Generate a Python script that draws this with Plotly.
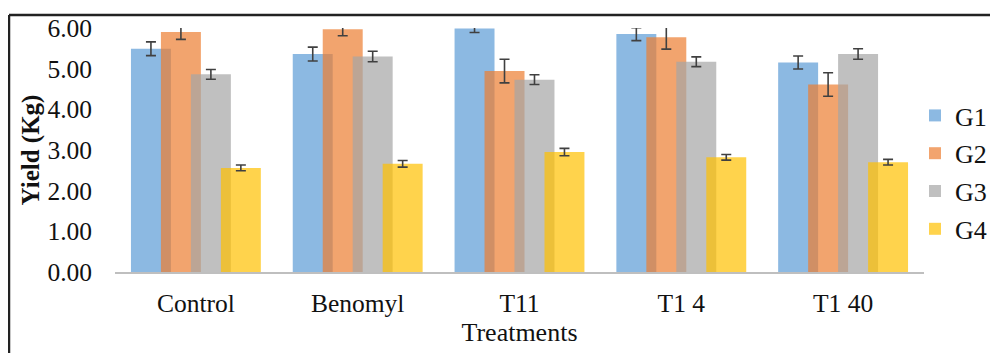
import plotly.graph_objects as go

categories = ["Control", "Benomyl", "T11", "T1 4", "T1 40"]
series_names = ["G1", "G2", "G3", "G4"]
g1 = [5.49, 5.36, 5.99, 5.85, 5.15]
g2 = [5.90, 5.97, 4.94, 5.77, 4.61]
g3 = [4.86, 5.30, 4.73, 5.17, 5.36]
g4 = [2.56, 2.66, 2.95, 2.82, 2.70]
g1_err = [0.17, 0.17, 0.10, 0.16, 0.16]
g2_err = [0.18, 0.16, 0.29, 0.29, 0.29]
g3_err = [0.12, 0.13, 0.12, 0.12, 0.13]
g4_err = [0.07, 0.08, 0.09, 0.07, 0.07]
y_ticks = [0, 1, 2, 3, 4, 5, 6]
y_tick_labels = ["0.00", "1.00", "2.00", "3.00", "4.00", "5.00", "6.00"]

values = [g1, g2, g3, g4]
errors = [g1_err, g2_err, g3_err, g4_err]
colors = ["rgba(91,155,213,0.7)", "rgba(237,125,49,0.7)",
          "rgba(165,165,165,0.7)", "rgba(255,192,0,0.7)"]

FONT = "Liberation Serif, Times New Roman, serif"

fig = go.Figure()
for name, vals, errs, col in zip(series_names, values, errors, colors):
    fig.add_trace(go.Bar(
        x=categories, y=vals, name=name, width=0.247,
        marker=dict(color=col, line=dict(width=0)),
        error_y=dict(type="data", array=errs, visible=True,
                     color="#404040", thickness=1.6, width=5),
        legendgroup=name,
    ))

# page body has an 8px margin, so work in figure coords = reference - 8
OFF = 8
W, H = 998 - OFF, 353 - OFF
l, r, t, b = 115 - OFF, W - (924 - OFF), 28 - OFF, H - (272 - OFF)
pw, ph = W - l - r, H - t - b
fx = lambda px: (px - OFF - l) / pw
fy = lambda py: (H - b - (py - OFF)) / ph

fig.update_layout(
    width=W, height=H,
    margin=dict(l=l, r=r, t=t, b=b, autoexpand=False),
    barmode="group", bargap=0.259, bargroupgap=0,
    plot_bgcolor="white", paper_bgcolor="white",
    font=dict(family=FONT, size=25, color="#111"),
    showlegend=True,
    legend=dict(x=fx(915), y=fy(92), xanchor="left", yanchor="top",
                font=dict(size=26, family=FONT, color="#111"),
                tracegroupgap=1, itemwidth=30,
                bgcolor="rgba(0,0,0,0)"),
    xaxis=dict(
        showline=True, linecolor="#BFBFBF", linewidth=2,
        ticks="", showgrid=False, ticklabelstandoff=7, automargin=False,
        tickfont=dict(size=25.5, family=FONT, color="#111"),
        title=dict(text="Treatments", standoff=3,
                   font=dict(size=26, family=FONT, color="#111")),
    ),
    yaxis=dict(
        range=[0, 6], tickvals=y_ticks, ticktext=y_tick_labels,
        showline=False, showgrid=False, zeroline=False, ticks="",
        ticklabelstandoff=22, automargin=False,
        tickfont=dict(size=25.5, family=FONT, color="#111"),
        title=dict(text="<b>Yield (Kg)</b>", standoff=0,
                   font=dict(size=25, family=FONT, color="#111")),
    ),
    shapes=[
        dict(type="line", xref="paper", yref="paper",
             x0=fx(9), x1=fx(1010), y0=fy(15), y1=fy(15),
             line=dict(color="#222", width=2.5)),
        dict(type="line", xref="paper", yref="paper",
             x0=fx(9), x1=fx(9), y0=fy(15), y1=fy(360),
             line=dict(color="#222", width=2.5)),
    ],
)

fig.write_html("out.html")
